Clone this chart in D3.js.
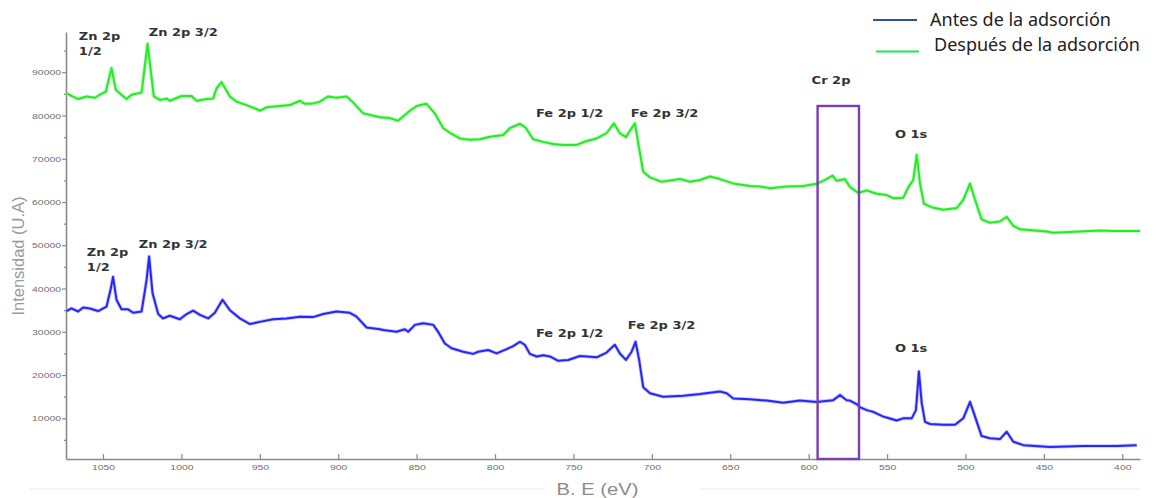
<!DOCTYPE html>
<html><head><meta charset="utf-8">
<script src="https://cdn.jsdelivr.net/npm/d3@7"></script>
<style>body{margin:0;background:#fff}svg{display:block}</style>
</head><body><svg id="c" width="1156" height="498"></svg>
<script>
// ---- data (binding energy in eV, intensity in a.u.) ----
const despuesBE=[1073.3,1065.9,1060.5,1055.2,1052.0,1048.2,1044.6,1041.8,1035.0,1031.8,1025.4,1021.6,1017.6,1013.8,1009.5,1007.4,999.9,993.5,990.3,984.0,979.8,977.6,974.4,969.1,964.8,958.5,952.1,950.0,945.7,937.2,930.8,924.5,921.3,916.0,911.7,906.4,901.1,894.7,890.5,884.1,873.4,867.1,861.8,854.3,850.0,843.7,838.4,833.1,828.8,822.4,816.0,809.7,803.3,794.8,790.5,784.1,780.5,775.7,769.3,762.9,756.5,748.0,741.6,735.2,728.9,724.2,720.4,716.5,713.4,710.8,708.7,705.5,701.2,693.8,682.1,675.7,669.3,663.0,656.6,648.1,637.5,631.1,624.7,614.0,603.5,594.9,589.6,584.7,582.2,576.9,573.7,568.4,563.0,556.6,550.3,546.1,539.7,536.5,533.3,531.1,529.0,526.5,521.6,514.2,505.6,501.4,497.1,493.9,489.7,484.4,478.0,473.7,469.5,465.2,448.2,444.0,427.0,414.2,405.7,388.7];
const despuesI=[85100,83800,84400,84100,84800,85500,91000,85900,83800,84800,85300,96600,84400,83600,83900,83400,84500,84500,83400,83800,83900,86300,87700,84400,83200,82400,81500,81100,81900,82200,82400,83400,82700,82800,83200,84400,84100,84400,83000,80500,79600,79400,78800,81100,82200,82700,80500,77100,76000,74700,74400,74500,75100,75500,77100,78100,77200,74500,73900,73400,73200,73200,74100,74700,75900,78200,75900,75000,76800,78200,73600,67000,65700,64700,65300,64700,65100,65900,65300,64300,63700,63600,63200,63600,63700,64200,65100,66100,64900,65300,63500,62100,62700,61900,61600,60900,61000,63400,65100,70900,64300,59600,58800,58200,58600,60500,64300,60500,56000,55200,55500,56600,54500,53700,53200,52900,53200,53400,53300,53300];
const antesBE=[1073.3,1070.1,1065.9,1062.7,1058.4,1053.1,1047.8,1045.2,1043.6,1041.4,1038.2,1034.0,1030.8,1025.4,1022.2,1020.6,1018.4,1014.8,1011.7,1007.4,1001.0,996.7,992.5,988.2,982.9,978.7,973.8,969.1,962.7,956.3,950.0,941.5,932.9,924.5,916.0,909.6,901.1,892.6,888.3,881.9,873.4,871.3,862.8,857.5,855.4,851.1,845.8,839.4,836.3,832.0,827.7,820.3,813.9,810.7,804.4,799.0,792.6,788.4,784.1,781.0,777.8,773.5,769.3,765.0,759.7,753.3,745.9,741.6,735.2,728.9,723.6,720.4,716.5,712.9,710.4,708.1,705.5,701.2,692.8,680.0,669.3,656.6,652.3,648.1,637.5,626.8,616.2,605.6,594.9,584.3,580.0,575.8,573.7,569.4,567.3,563.0,558.8,552.4,550.3,543.9,539.7,534.3,531.6,529.7,527.9,525.8,522.6,514.2,506.7,501.4,497.1,493.9,489.7,484.4,478.0,473.7,469.5,463.1,446.1,424.9,403.6,390.8];
const antesI=[34800,35400,34700,35600,35400,34800,35800,39700,42700,37400,35200,35200,34400,34700,42000,47400,38900,34100,33100,33700,32900,34100,34900,33900,33100,34400,37400,35000,33100,31800,32300,32900,33100,33500,33400,34100,34700,34400,33500,31000,30600,30400,30000,30600,30000,31600,32000,31600,30000,27300,26200,25400,24900,25400,25800,25000,26000,26700,27700,27000,24900,24300,24600,24300,23300,23500,24400,24300,24100,25200,27000,25000,23500,25400,27700,23500,17200,15800,15000,15200,15600,16200,15800,14600,14400,14100,13600,14100,13800,14200,15400,14200,14100,13300,12600,11900,11500,10400,10200,9500,10000,10000,11900,20800,13500,9200,8700,8500,8500,10000,13800,10400,5900,5400,5200,6900,4600,3800,3400,3600,3600,3800];
const xTicks=[1050,1000,950,900,850,800,750,700,650,600,550,500,450,400];
const yTicks=[10000,20000,30000,40000,50000,60000,70000,80000,90000];
const yMinorTicks=[5000,15000,25000,35000,45000,55000,65000,75000,85000,95000];
const legendNames=["Antes de la adsorción","Después de la adsorción"];
const labelText=["Zn 2p","1/2","Zn 2p 3/2","Fe 2p 1/2","Fe 2p 3/2","Cr 2p","O 1s","Zn 2p","1/2","Zn 2p 3/2","Fe 2p 1/2","Fe 2p 3/2","O 1s"];
const labelBE=[1065.4,1065.4,1020.8,773.9,713.4,598.1,545.0,1060.3,1060.3,1027.2,773.9,715.3,545.0];
const labelI=[97500,94000,98300,79700,79700,87300,74800,47500,44100,49300,28900,30600,25400];
const crBoxBE=[594.3,567.9];
const crBoxTopI=82200;
const xTitle="B. E (eV)";
const yTitle="Intensidad (U.A)";

// ---- drawing ----
const svg=d3.select("#c");
const x=d3.scaleLinear().domain([1073.6,388.7]).range([66,1140]);
const y=d3.scaleLinear().domain([600,99300]).range([459,32]);
const STRETCH=1.3;
function stretch(sel,k){sel.each(function(){const w=this.getComputedTextLength();if(w>0){d3.select(this).attr("textLength",w*(k||STRETCH)).attr("lengthAdjust","spacingAndGlyphs");}});}

// faint bottom rules
svg.append("line").attr("x1",30).attr("x2",545).attr("y1",489).attr("y2",489).attr("stroke","#f0f0f0").attr("stroke-width",1.5);
svg.append("line").attr("x1",700).attr("x2",1140).attr("y1",489).attr("y2",489).attr("stroke","#f0f0f0").attr("stroke-width",1.5);

const tickFont="'Liberation Sans',Arial,sans-serif";
// y axis
const gy=svg.append("g").attr("transform","translate(66,0)")
  .call(d3.axisLeft(y).tickValues(yTicks).tickSizeInner(4).tickSizeOuter(0).tickPadding(1).tickFormat(d3.format("d")));
gy.select(".domain").attr("stroke","#8a8a8a").attr("stroke-width",1.6);
gy.selectAll(".tick line").attr("stroke","#8a8a8a").attr("stroke-width",1.2);
gy.selectAll(".tick text").attr("fill","#6e6e6e").style("font-family",tickFont).style("font-size","8px").call(stretch);
const gym=svg.append("g").attr("transform","translate(66,0)")
  .call(d3.axisLeft(y).tickValues(yMinorTicks).tickSizeInner(2).tickSizeOuter(0).tickFormat(""));
gym.select(".domain").remove();
gym.selectAll(".tick line").attr("stroke","#8a8a8a").attr("stroke-width",1.2);

// x axis
const gx=svg.append("g").attr("transform","translate(0,459)")
  .call(d3.axisBottom(x).tickValues(xTicks).tickSizeInner(-5).tickSizeOuter(0).tickPadding(5.5).tickFormat(d3.format("d")));
gx.select(".domain").attr("stroke","#8a8a8a").attr("stroke-width",1.6);
gx.selectAll(".tick line").attr("stroke","#8a8a8a").attr("stroke-width",1.2);
gx.selectAll(".tick text").attr("fill","#6e6e6e").style("font-family",tickFont).style("font-size","8px").call(stretch);

// titles
svg.append("text").attr("x",597.5).attr("y",495).attr("text-anchor","middle")
  .style("font-family",tickFont).style("font-size","16px").attr("fill","#8c8c8c").text(xTitle).call(stretch,1.26);
svg.append("text").attr("transform","translate(24,256) rotate(-90)").attr("text-anchor","middle")
  .style("font-family",tickFont).style("font-size","16.5px").attr("fill","#9a9a9a").text(yTitle);

// series
const line=d3.line().x(d=>x(d[0])).y(d=>y(d[1]));
const series=[
  {be:despuesBE,v:despuesI,color:"#22ee22",halo:"#9ff79f"},
  {be:antesBE,v:antesI,color:"#2626f8",halo:"#a8a8ff"}
];
series.forEach(s=>{
  const pts=s.be.map((b,i)=>[b,s.v[i]]);
  svg.append("path").datum(pts).attr("d",line).attr("fill","none").attr("stroke",s.halo).attr("stroke-width",3.6).attr("stroke-linejoin","round").attr("opacity",0.7);
  svg.append("path").datum(pts).attr("d",line).attr("fill","none").attr("stroke",s.color).attr("stroke-width",2).attr("stroke-linejoin","round");
});

// Cr 2p box
svg.append("rect").attr("x",x(crBoxBE[0])).attr("y",y(crBoxTopI))
  .attr("width",x(crBoxBE[1])-x(crBoxBE[0])).attr("height",y.range()[0]-y(crBoxTopI))
  .attr("fill","none").attr("stroke","#7b3db3").attr("stroke-width",2.4);

// peak labels
labelText.forEach((t,i)=>{
  svg.append("text").attr("x",x(labelBE[i])).attr("y",y(labelI[i]))
    .style("font-family","'DejaVu Sans',Verdana,sans-serif").style("font-weight","bold").style("font-size","10px")
    .attr("fill","#333").text(t).call(stretch);
});

// legend
const legColors=["#2f4f9f","#19e84a"];
const legY=[20,51.5];
const legTextY=[25.5,50.5];
const legX=[[873,917],[876,919]];
const legTX=[930,934];
legendNames.forEach((n,i)=>{
  svg.append("line").attr("x1",legX[i][0]).attr("x2",legX[i][1]).attr("y1",legY[i]).attr("y2",legY[i]).attr("stroke",legColors[i]).attr("stroke-width",2);
  svg.append("text").attr("x",legTX[i]).attr("y",legTextY[i]).style("font-family","'Noto Sans',sans-serif").style("font-size","18px").attr("fill","#222").text(n);
});
</script></body></html>
